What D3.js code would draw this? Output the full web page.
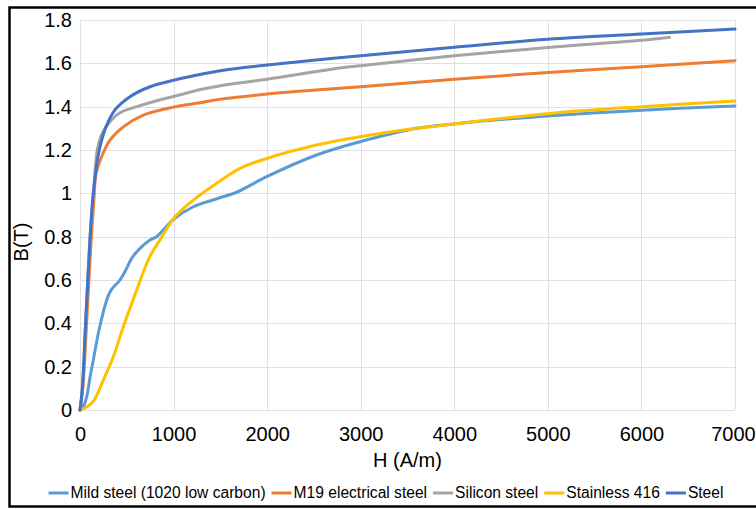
<!DOCTYPE html>
<html><head><meta charset="utf-8">
<script src="https://cdn.jsdelivr.net/npm/d3@7"></script>
<style>
html,body{margin:0;padding:0;background:#fff;}
svg{display:block;font-family:"Liberation Sans",Arial,sans-serif;}
</style></head>
<body>
<svg id="chart" width="756" height="509"></svg>
<script>
// ---- data ----
const seriesNames = ["Mild steel (1020 low carbon)", "M19 electrical steel", "Silicon steel", "Stainless 416", "Steel"];
const seriesColors = ["#5B9BD5", "#ED7D31", "#A5A5A5", "#FFC000", "#4472C4"];

const mildH = [0, 40, 71, 107, 142, 214, 320, 427, 499, 552, 641, 748, 819, 1000, 1211, 1461, 1674, 1995, 2529, 2992, 3598, 3990, 5023, 6003, 7000];
const mildB = [0, 0.02, 0.06, 0.15, 0.23, 0.39, 0.545, 0.60, 0.654, 0.70, 0.746, 0.785, 0.80, 0.88, 0.938, 0.975, 1.005, 1.077, 1.177, 1.238, 1.30, 1.32, 1.358, 1.384, 1.403];

const m19H = [0, 30, 70, 120, 150, 171, 232, 320, 463, 677, 1000, 1282, 1425, 2000, 3000, 4000, 5000, 6000, 7000];
const m19B = [0, 0.1, 0.4, 0.79, 0.98, 1.09, 1.17, 1.246, 1.307, 1.361, 1.398, 1.418, 1.43, 1.458, 1.492, 1.527, 1.558, 1.584, 1.612];

const siliconH = [0, 25, 60, 107, 150, 185, 230, 300, 427, 606, 783, 1000, 1300, 1500, 2000, 2800, 3000, 4000, 5000, 6000, 6300];
const siliconB = [0, 0.1, 0.4, 0.79, 1.04, 1.2, 1.27, 1.32, 1.372, 1.40, 1.423, 1.447, 1.48, 1.497, 1.527, 1.58, 1.589, 1.635, 1.673, 1.706, 1.72];

const stainH = [0, 50, 142, 249, 356, 463, 606, 748, 855, 1015, 1211, 1389, 1710, 1995, 2529, 2992, 3598, 3990, 5023, 6003, 7000];
const stainB = [0, 0.008, 0.04, 0.138, 0.246, 0.384, 0.554, 0.71, 0.785, 0.892, 0.969, 1.025, 1.115, 1.161, 1.223, 1.261, 1.30, 1.32, 1.369, 1.40, 1.426];

const steelH = [0, 25, 60, 107, 142, 206, 278, 374, 534, 748, 1000, 1250, 1500, 2000, 3000, 4000, 5000, 6000, 7000];
const steelB = [0, 0.1, 0.4, 0.79, 1.0, 1.2, 1.307, 1.385, 1.446, 1.492, 1.522, 1.546, 1.566, 1.592, 1.635, 1.674, 1.711, 1.735, 1.758];

const xTickValues = [0, 1000, 2000, 3000, 4000, 5000, 6000, 7000];
const xTickLabels = ["0", "1000", "2000", "3000", "4000", "5000", "6000", "7000"];
const yTickValues = [0, 0.2, 0.4, 0.6, 0.8, 1, 1.2, 1.4, 1.6, 1.8];
const yTickLabels = ["0", "0.2", "0.4", "0.6", "0.8", "1", "1.2", "1.4", "1.6", "1.8"];
const xTitle = "H (A/m)";
const yTitle = "B(T)";

// ---- build ----
const seriesH = [mildH, m19H, siliconH, stainH, steelH];
const seriesB = [mildB, m19B, siliconB, stainB, steelB];
const series = seriesNames.map((name, i) => ({
  name, color: seriesColors[i],
  points: seriesH[i].map((h, j) => ({h, b: seriesB[i][j]}))
}));

const svg = d3.select("#chart");
const plot = {left: 80, right: 735, top: 20, bottom: 410};
const x = d3.scaleLinear().domain([0, 7000]).range([plot.left, plot.right]);
const y = d3.scaleLinear().domain([0, 1.8]).range([plot.bottom, plot.top]);

// frame
svg.append("rect").attr("x", 9.5).attr("y", 7.5).attr("width", 770).attr("height", 499)
  .attr("fill", "none").attr("stroke", "#000").attr("stroke-width", 2.5);

// gridlines
const grid = svg.append("g");
grid.selectAll("line.h").data(yTickValues).join("line")
  .attr("x1", plot.left).attr("x2", plot.right)
  .attr("y1", d => Math.round(y(d)) + 0.5).attr("y2", d => Math.round(y(d)) + 0.5)
  .attr("stroke", "#e1e1e1").attr("stroke-width", 1);
grid.selectAll("line.v").data(xTickValues).join("line")
  .attr("y1", plot.top).attr("y2", plot.bottom)
  .attr("x1", d => Math.round(x(d)) + 0.5).attr("x2", d => Math.round(x(d)) + 0.5)
  .attr("stroke", "#e1e1e1").attr("stroke-width", 1);

// axes
const yAxis = d3.axisLeft(y).tickValues(yTickValues).tickSize(0).tickPadding(8)
  .tickFormat((d, i) => yTickLabels[i]);
const gy = svg.append("g").attr("transform", `translate(${plot.left},0)`).call(yAxis);
gy.select(".domain").remove();
gy.selectAll("text").attr("font-size", 20).attr("fill", "#000")
  .attr("font-family", "'Liberation Sans', Arial, sans-serif");

const xAxis = d3.axisBottom(x).tickValues(xTickValues).tickSize(0).tickPadding(17)
  .tickFormat((d, i) => xTickLabels[i]);
const gx = svg.append("g").attr("transform", `translate(0,${plot.bottom})`).call(xAxis);
gx.select(".domain").remove();
gx.selectAll("text").attr("font-size", 20).attr("fill", "#000")
  .attr("font-family", "'Liberation Sans', Arial, sans-serif")
  .attr("dx", (d, i) => i === xTickValues.length - 1 ? -2 : 0);

// titles
svg.append("text").attr("x", (plot.left + plot.right) / 2).attr("y", 467)
  .attr("text-anchor", "middle").attr("font-size", 20).text(xTitle);
svg.append("text").attr("transform", "translate(28,242) rotate(-90)")
  .attr("text-anchor", "middle").attr("font-size", 20).text(yTitle);

// lines
const line = d3.line().x(d => x(d.h)).y(d => y(d.b)).curve(d3.curveCatmullRom.alpha(0.5));
svg.append("g").selectAll("path").data(series).join("path")
  .attr("d", d => line(d.points))
  .attr("fill", "none").attr("stroke", d => d.color)
  .attr("stroke-width", 3).attr("stroke-linejoin", "round").attr("stroke-linecap", "round");

// legend
const legend = svg.append("g");
const legFont = 15.6, sym = 20, symGap = 2, itemGap = 6, legY = 493;
const items = [];
series.forEach(s => {
  const g = legend.append("g");
  g.append("line").attr("x1", 0).attr("x2", sym).attr("y1", 0).attr("y2", 0)
    .attr("stroke", s.color).attr("stroke-width", 3);
  const t = g.append("text").attr("x", sym + symGap).attr("y", 0).attr("dy", "0.35em")
    .attr("font-size", legFont).text(s.name);
  const w = sym + symGap + t.node().getComputedTextLength();
  items.push({g, w});
});
const total = d3.sum(items, d => d.w) + itemGap * (items.length - 1);
let start = 386 - total / 2;
items.forEach(it => {
  it.g.attr("transform", `translate(${start},${legY})`);
  start += it.w + itemGap;
});
</script>
</body></html>
